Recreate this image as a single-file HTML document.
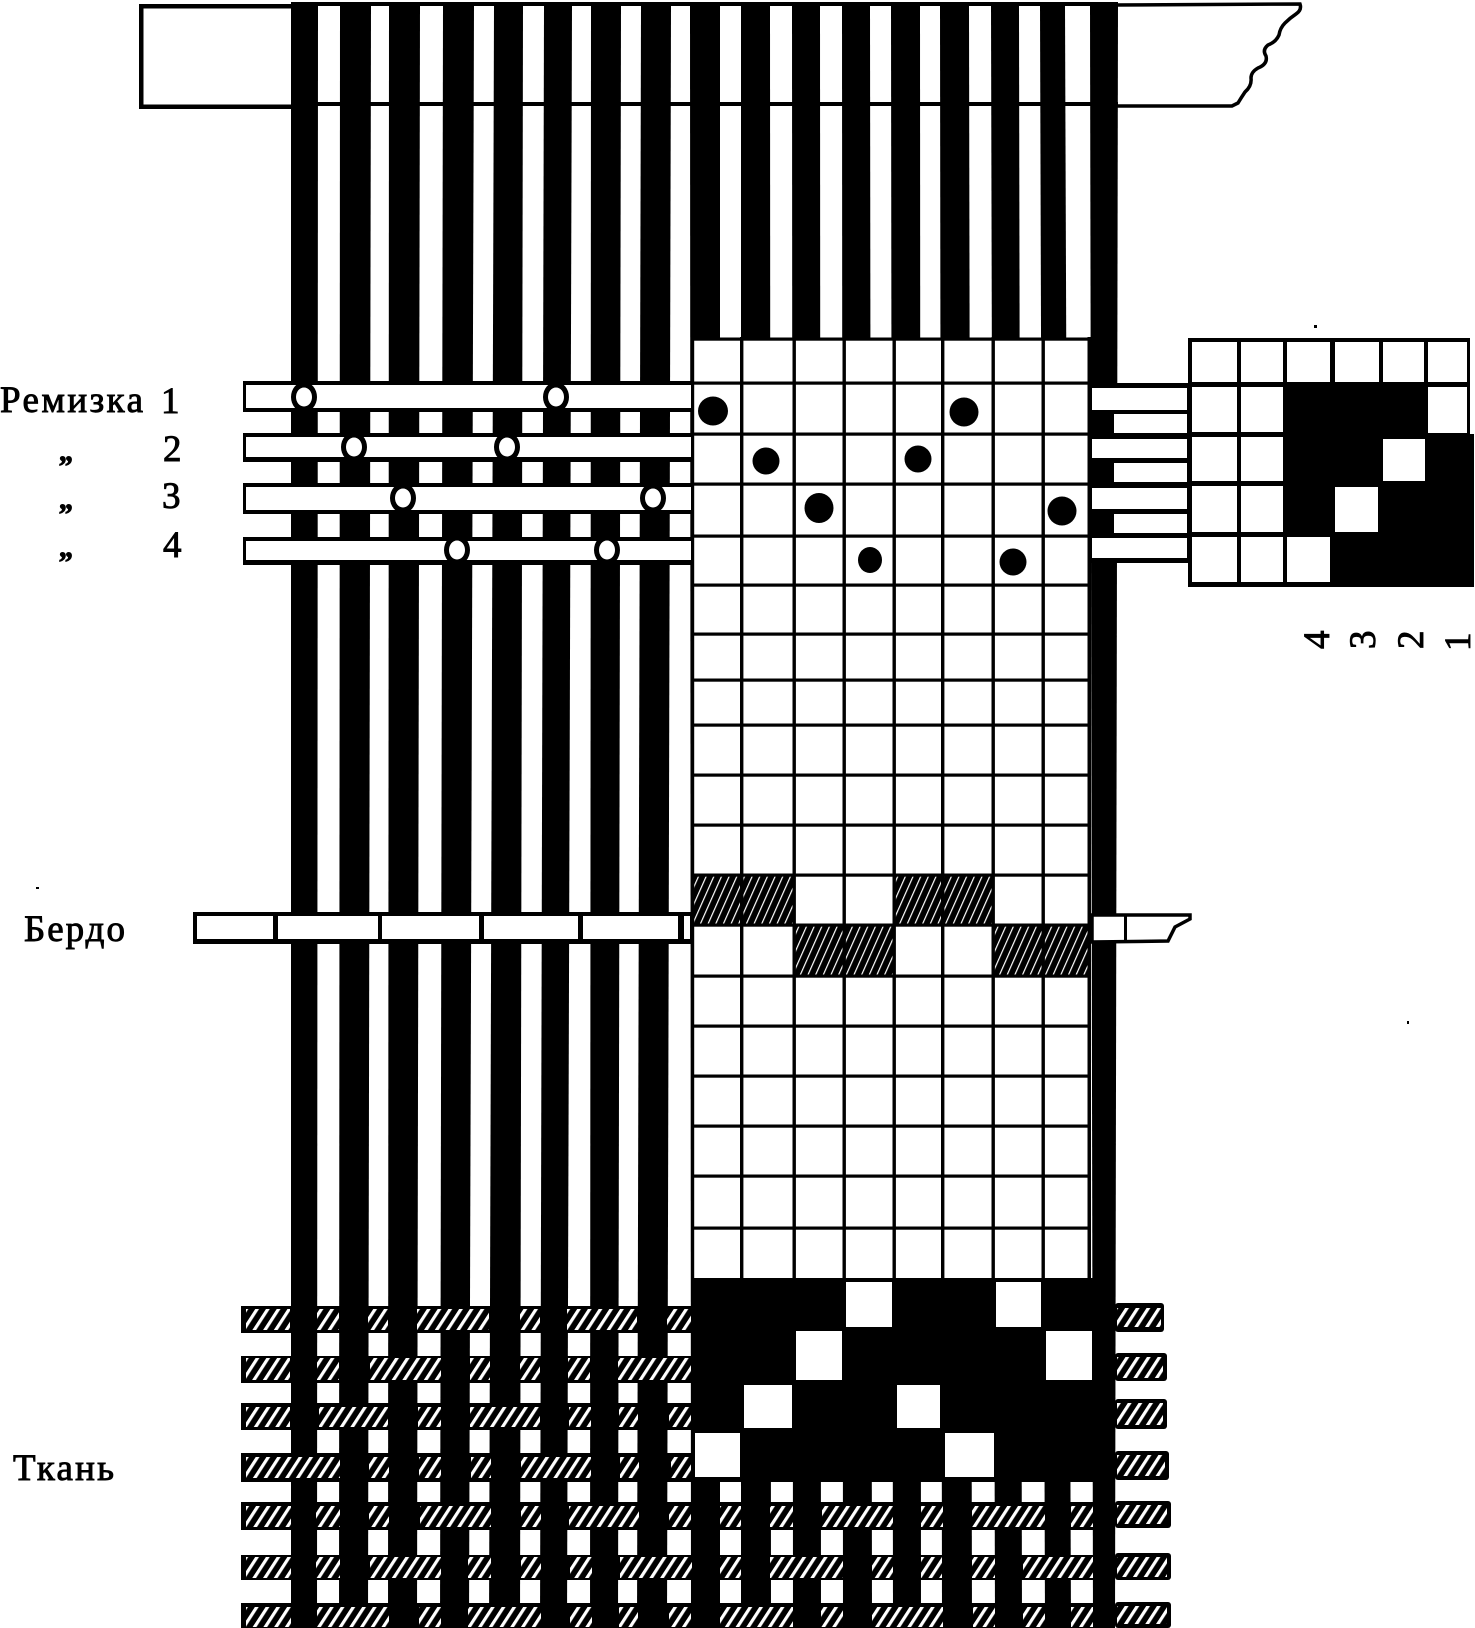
<!DOCTYPE html>
<html lang="ru">
<head>
<meta charset="utf-8">
<title>Ремизка, бердо, ткань</title>
<style>
html,body{margin:0;padding:0;background:#fff}
svg{display:block}
text{font-family:"Liberation Serif","Noto Serif CJK SC",serif;fill:#000;stroke:#000;stroke-width:.9}
</style>
</head>
<body>
<svg xmlns="http://www.w3.org/2000/svg" width="1475" height="1628" viewBox="0 0 1475 1628">
<defs>
<pattern id="w" patternUnits="userSpaceOnUse" width="9" height="9" patternTransform="rotate(33)">
<rect width="9" height="9" fill="#000"/><rect width="3.2" height="9" fill="#fff"/>
</pattern>
<pattern id="g" patternUnits="userSpaceOnUse" width="7" height="7" patternTransform="rotate(24)">
<rect width="7" height="7" fill="#000"/><rect width="1.2" height="7" fill="#fff"/>
</pattern>
</defs>
<rect width="1475" height="1628" fill="#fff"/>

<!-- beam left -->
<rect x="139" y="4" width="155" height="105" fill="#000"/>
<rect x="143.5" y="8.5" width="150" height="96" fill="#fff"/>
<!-- beam right -->
<path d="M1112,5 L1300,4 Q1302,10 1296,14 Q1290,18 1285,23 Q1280,28 1279,35 Q1276,42 1268,45 Q1262,50 1266,56 Q1268,64 1258,68 Q1251,72 1251,78 Q1252,86 1245,92 Q1241,98 1238,103 L1232,106 L1112,106 Z" fill="#fff" stroke="#000" stroke-width="3.5"/>

<!-- warp band -->
<polygon points="291,2 1118,2 1115,1628 291,1628" fill="#000"/>
<g fill="#fff">
<polygon points="318,6 340,6 339,1628 317,1628"/>
<polygon points="371,6 389,6 388,1628 368,1628"/>
<polygon points="420,6 443,6 440,1628 417,1628"/>
<polygon points="474,6 494,6 489,1628 469,1628"/>
<polygon points="523,6 544,6 540,1628 520,1628"/>
<polygon points="572,6 591,6 590,1628 567,1628"/>
<polygon points="621,6 641,6 637,1628 618,1628"/>
<polygon points="671,6 690,6 691,1628 667,1628"/>
<polygon points="720,6 741,6 741,1628 720,1628"/>
<polygon points="770,6 792,6 793,1628 771,1628"/>
<polygon points="820,6 842,6 843,1628 821,1628"/>
<polygon points="870,6 891,6 893,1628 872,1628"/>
<polygon points="920,6 940,6 942,1628 921,1628"/>
<polygon points="969,6 991,6 995,1628 972,1628"/>
<polygon points="1019,6 1040,6 1045,1628 1022,1628"/>
<polygon points="1065,6 1090,6 1093,1628 1071,1628"/>
</g>
<rect x="291" y="102" width="827" height="4" fill="#000"/>

<!-- weft strips -->
<g fill="#000">
<rect x="241" y="1306" width="874" height="27"/>
<rect x="241" y="1356" width="874" height="27"/>
<rect x="241" y="1403" width="874" height="27"/>
<rect x="241" y="1453" width="874" height="29"/>
<rect x="241" y="1502" width="874" height="28"/>
<rect x="241" y="1555" width="874" height="25"/>
<rect x="241" y="1603" width="874" height="25"/>
</g>

<!-- weft hatch -->
<g fill="url(#w)">
<!-- r1 -->
<rect x="246" y="1309" width="44" height="21"/><rect x="317" y="1309" width="22" height="21"/><rect x="368" y="1309" width="20" height="21"/><rect x="417" y="1309" width="72" height="21"/><rect x="520" y="1309" width="20" height="21"/><rect x="567" y="1309" width="70" height="21"/><rect x="667" y="1309" width="24" height="21"/>
<!-- r2 -->
<rect x="246" y="1358" width="44" height="22"/><rect x="317" y="1358" width="22" height="22"/><rect x="370" y="1358" width="71" height="22"/><rect x="470" y="1358" width="20" height="22"/><rect x="520" y="1358" width="20" height="22"/><rect x="568" y="1358" width="22" height="22"/><rect x="618" y="1358" width="73" height="22"/>
<!-- r3 -->
<rect x="246" y="1407" width="44" height="20"/><rect x="319" y="1407" width="69" height="20"/><rect x="418" y="1407" width="23" height="20"/><rect x="470" y="1407" width="70" height="20"/><rect x="569" y="1407" width="22" height="20"/><rect x="619" y="1407" width="19" height="20"/><rect x="669" y="1407" width="22" height="20"/>
<!-- r4 -->
<rect x="246" y="1457" width="94" height="21"/><rect x="369" y="1457" width="20" height="21"/><rect x="419" y="1457" width="22" height="21"/><rect x="471" y="1457" width="20" height="21"/><rect x="521" y="1457" width="70" height="21"/><rect x="620" y="1457" width="19" height="21"/><rect x="671" y="1457" width="20" height="21"/>
<!-- r5 -->
<rect x="246" y="1506" width="45" height="21"/><rect x="316" y="1506" width="24" height="21"/><rect x="369" y="1506" width="20" height="21"/><rect x="420" y="1506" width="71" height="21"/><rect x="521" y="1506" width="20" height="21"/><rect x="569" y="1506" width="70" height="21"/><rect x="669" y="1506" width="22" height="21"/><rect x="720" y="1506" width="21" height="21"/><rect x="770" y="1506" width="23" height="21"/><rect x="822" y="1506" width="71" height="21"/><rect x="921" y="1506" width="22" height="21"/><rect x="972" y="1506" width="73" height="21"/><rect x="1071" y="1506" width="22" height="21"/>
<!-- r6 -->
<rect x="246" y="1557" width="45" height="21"/><rect x="316" y="1557" width="24" height="21"/><rect x="370" y="1557" width="71" height="21"/><rect x="468" y="1557" width="23" height="21"/><rect x="521" y="1557" width="20" height="21"/><rect x="570" y="1557" width="22" height="21"/><rect x="620" y="1557" width="72" height="21"/><rect x="720" y="1557" width="21" height="21"/><rect x="770" y="1557" width="73" height="21"/><rect x="872" y="1557" width="21" height="21"/><rect x="921" y="1557" width="21" height="21"/><rect x="972" y="1557" width="23" height="21"/><rect x="1023" y="1557" width="70" height="21"/>
<!-- r7 -->
<rect x="246" y="1607" width="45" height="20"/><rect x="317" y="1607" width="72" height="20"/><rect x="419" y="1607" width="22" height="20"/><rect x="468" y="1607" width="73" height="20"/><rect x="570" y="1607" width="22" height="20"/><rect x="619" y="1607" width="19" height="20"/><rect x="669" y="1607" width="22" height="20"/><rect x="720" y="1607" width="73" height="20"/><rect x="821" y="1607" width="22" height="20"/><rect x="872" y="1607" width="71" height="20"/><rect x="973" y="1607" width="22" height="20"/><rect x="1023" y="1607" width="22" height="20"/><rect x="1071" y="1607" width="22" height="20"/>
</g>

<!-- reed left -->
<rect x="193" y="912" width="499" height="32" fill="#000"/>
<g fill="#fff">
<rect x="197" y="916" width="76" height="23"/>
<rect x="278" y="916" width="100" height="23"/>
<rect x="382" y="916" width="97" height="23"/>
<rect x="484" y="916" width="94" height="23"/>
<rect x="583" y="916" width="95" height="23"/>
<rect x="684" y="916" width="6" height="23"/>
</g>
<!-- reed right -->
<path d="M1092,915 L1190,915 L1190,919 L1175,927 L1168,941 L1092,942 Z" fill="#fff" stroke="#000" stroke-width="3.5"/>
<rect x="1124" y="915" width="3" height="27" fill="#000"/>

<!-- shafts -->
<g fill="#000">
<rect x="243" y="381" width="449" height="31"/>
<rect x="243" y="433" width="449" height="29"/>
<rect x="243" y="483" width="449" height="31"/>
<rect x="243" y="537" width="449" height="28"/>
</g>
<g fill="#fff">
<rect x="246" y="385" width="446" height="23"/>
<rect x="246" y="437" width="446" height="20"/>
<rect x="246" y="487" width="446" height="23"/>
<rect x="246" y="541" width="446" height="19"/>
</g>
<g fill="#000">
<ellipse cx="304" cy="397" rx="13" ry="15"/><ellipse cx="556" cy="397" rx="13" ry="15"/>
<ellipse cx="354" cy="447" rx="13" ry="15"/><ellipse cx="507" cy="447" rx="13" ry="15"/>
<ellipse cx="403" cy="498" rx="13" ry="15"/><ellipse cx="653" cy="498" rx="13" ry="15"/>
<ellipse cx="457" cy="550" rx="13" ry="15"/><ellipse cx="607" cy="550" rx="13" ry="15"/>
</g>
<g fill="#fff">
<ellipse cx="304" cy="397" rx="8" ry="9.5"/><ellipse cx="556" cy="397" rx="8" ry="9.5"/>
<ellipse cx="354" cy="447" rx="8" ry="9.5"/><ellipse cx="507" cy="447" rx="8" ry="9.5"/>
<ellipse cx="403" cy="498" rx="8" ry="9.5"/><ellipse cx="653" cy="498" rx="8" ry="9.5"/>
<ellipse cx="457" cy="550" rx="8" ry="9.5"/><ellipse cx="607" cy="550" rx="8" ry="9.5"/>
</g>

<!-- main grid -->
<rect x="692" y="339" width="398" height="941" fill="#fff"/>
<rect x="694" y="875" width="99" height="50" fill="url(#g)"/>
<rect x="894" y="875" width="98" height="50" fill="url(#g)"/>
<rect x="794" y="925" width="100" height="51" fill="url(#g)"/>
<rect x="993" y="925" width="96" height="51" fill="url(#g)"/>
<g fill="#000">
<rect x="691" y="337.5" width="398" height="3.2"/>
<rect x="691" y="381.5" width="398" height="3.2"/>
<rect x="691" y="432.5" width="398" height="3.2"/>
<rect x="691" y="482.5" width="398" height="3.2"/>
<rect x="691" y="534.5" width="398" height="3.2"/>
<rect x="691" y="583.5" width="398" height="3.2"/>
<rect x="691" y="632.5" width="398" height="3.2"/>
<rect x="691" y="678.5" width="398" height="3.2"/>
<rect x="691" y="723.5" width="398" height="3.2"/>
<rect x="691" y="773.5" width="398" height="3.2"/>
<rect x="691" y="823.5" width="398" height="3.2"/>
<rect x="691" y="873.5" width="398" height="3.2"/>
<rect x="691" y="923.5" width="398" height="3.2"/>
<rect x="691" y="974.5" width="398" height="3.2"/>
<rect x="691" y="1024.5" width="398" height="3.2"/>
<rect x="691" y="1074.5" width="398" height="3.2"/>
<rect x="691" y="1124.5" width="398" height="3.2"/>
<rect x="691" y="1174.5" width="398" height="3.2"/>
<rect x="691" y="1226.5" width="398" height="3.2"/>
<rect x="691" y="337" width="3.2" height="945"/>
<rect x="740" y="337" width="3.4" height="945"/>
<rect x="792.5" y="337" width="3.4" height="945"/>
<rect x="842.5" y="337" width="3.4" height="945"/>
<rect x="892.5" y="337" width="3.4" height="945"/>
<rect x="941" y="337" width="3.4" height="945"/>
<rect x="991.5" y="337" width="3.4" height="945"/>
<rect x="1041.5" y="337" width="3.4" height="945"/>
<rect x="1087.5" y="337" width="3.5" height="945"/>
<!-- bottom black band -->
<rect x="692" y="1278" width="423" height="204"/>
</g>
<g fill="#fff">
<rect x="846" y="1282" width="46" height="45"/><rect x="996" y="1282" width="45" height="45"/>
<rect x="796" y="1331" width="46" height="49"/><rect x="1046" y="1331" width="46" height="49"/>
<rect x="744" y="1385" width="48" height="43"/><rect x="897" y="1385" width="43" height="43"/>
<rect x="695" y="1433" width="45" height="44"/><rect x="945" y="1433" width="49" height="44"/>
</g>

<!-- dots -->
<g fill="#000">
<ellipse cx="713" cy="411" rx="15" ry="14.5"/><ellipse cx="964" cy="412" rx="14.5" ry="14.5"/>
<ellipse cx="766" cy="461" rx="13.5" ry="13.5"/><ellipse cx="918" cy="459" rx="13.5" ry="13.5"/>
<ellipse cx="819" cy="508" rx="14.5" ry="15"/><ellipse cx="1062" cy="511" rx="14.5" ry="14.5"/>
<ellipse cx="870" cy="560" rx="12" ry="13"/><ellipse cx="1013" cy="562" rx="13.5" ry="13.5"/>
</g>

<!-- right tabs -->
<g fill="#000">
<rect x="1115" y="1303" width="49" height="29" rx="3"/>
<rect x="1115" y="1353" width="52" height="28" rx="3"/>
<rect x="1115" y="1399" width="52" height="30" rx="3"/>
<rect x="1115" y="1451" width="54" height="29" rx="3"/>
<rect x="1115" y="1501" width="56" height="27" rx="3"/>
<rect x="1115" y="1553" width="56" height="27" rx="3"/>
<rect x="1115" y="1602" width="56" height="26" rx="3"/>
</g>
<g fill="url(#w)">
<rect x="1117" y="1308" width="44" height="19"/>
<rect x="1117" y="1357" width="46" height="21"/>
<rect x="1117" y="1403" width="46" height="22"/>
<rect x="1117" y="1455" width="48" height="21"/>
<rect x="1117" y="1505" width="50" height="19"/>
<rect x="1117" y="1557" width="50" height="20"/>
<rect x="1117" y="1606" width="50" height="18"/>
</g>

<!-- connecting bars -->
<rect x="1090" y="383" width="102" height="180" fill="#000"/>
<g fill="#fff">
<rect x="1092" y="388" width="95" height="22"/>
<rect x="1114" y="414" width="73" height="19"/>
<rect x="1092" y="439" width="95" height="19"/>
<rect x="1114" y="463" width="73" height="19"/>
<rect x="1092" y="488" width="95" height="21"/>
<rect x="1114" y="514" width="73" height="19"/>
<rect x="1092" y="538" width="95" height="20"/>
</g>

<!-- draft -->
<rect x="1188" y="338" width="282" height="249" fill="#000"/>
<rect x="1283" y="434" width="191" height="153" fill="#000"/>
<g fill="#fff">
<rect x="1192" y="342" width="45" height="40"/><rect x="1241" y="342" width="42" height="40"/><rect x="1287" y="342" width="43" height="40"/><rect x="1335" y="342" width="44" height="40"/><rect x="1383" y="342" width="41" height="40"/><rect x="1428" y="342" width="39" height="40"/>
<rect x="1192" y="387" width="45" height="45"/><rect x="1241" y="387" width="42" height="45"/><rect x="1428" y="387" width="39" height="46"/>
<rect x="1192" y="437" width="45" height="44"/><rect x="1241" y="437" width="42" height="44"/><rect x="1383" y="439" width="42" height="42"/>
<rect x="1192" y="486" width="45" height="46"/><rect x="1241" y="486" width="42" height="46"/><rect x="1335" y="487" width="43" height="45"/>
<rect x="1192" y="537" width="45" height="45"/><rect x="1241" y="537" width="42" height="45"/><rect x="1287" y="537" width="43" height="45"/>
</g>

<!-- labels -->
<text x="0" y="412" font-size="37" textLength="143" lengthAdjust="spacing">Ремизка</text>
<text x="161" y="413" font-size="37">1</text>
<text x="163" y="461" font-size="37">2</text>
<text x="162" y="508" font-size="37">3</text>
<text x="163" y="557" font-size="37">4</text>
<text x="57" y="476" font-size="30" font-style="italic" font-weight="bold">”</text>
<text x="57" y="524" font-size="30" font-style="italic" font-weight="bold">”</text>
<text x="57" y="572" font-size="30" font-style="italic" font-weight="bold">”</text>
<text x="24" y="941" font-size="37" textLength="101" lengthAdjust="spacing">Бердо</text>
<text x="13" y="1480" font-size="37" textLength="101" lengthAdjust="spacing">Ткань</text>
<text transform="translate(1329,649) rotate(-90)" font-size="37">4</text>
<text transform="translate(1375,649) rotate(-90)" font-size="37">3</text>
<text transform="translate(1423,649) rotate(-90)" font-size="37">2</text>
<text transform="translate(1470,651) rotate(-90)" font-size="37">1</text>

<!-- specks -->
<g fill="#000">
<rect x="36" y="887" width="3" height="2"/>
<rect x="1407" y="1021" width="2" height="3"/>
<rect x="1314" y="325" width="3" height="3"/>
</g>
</svg>
</body>
</html>
